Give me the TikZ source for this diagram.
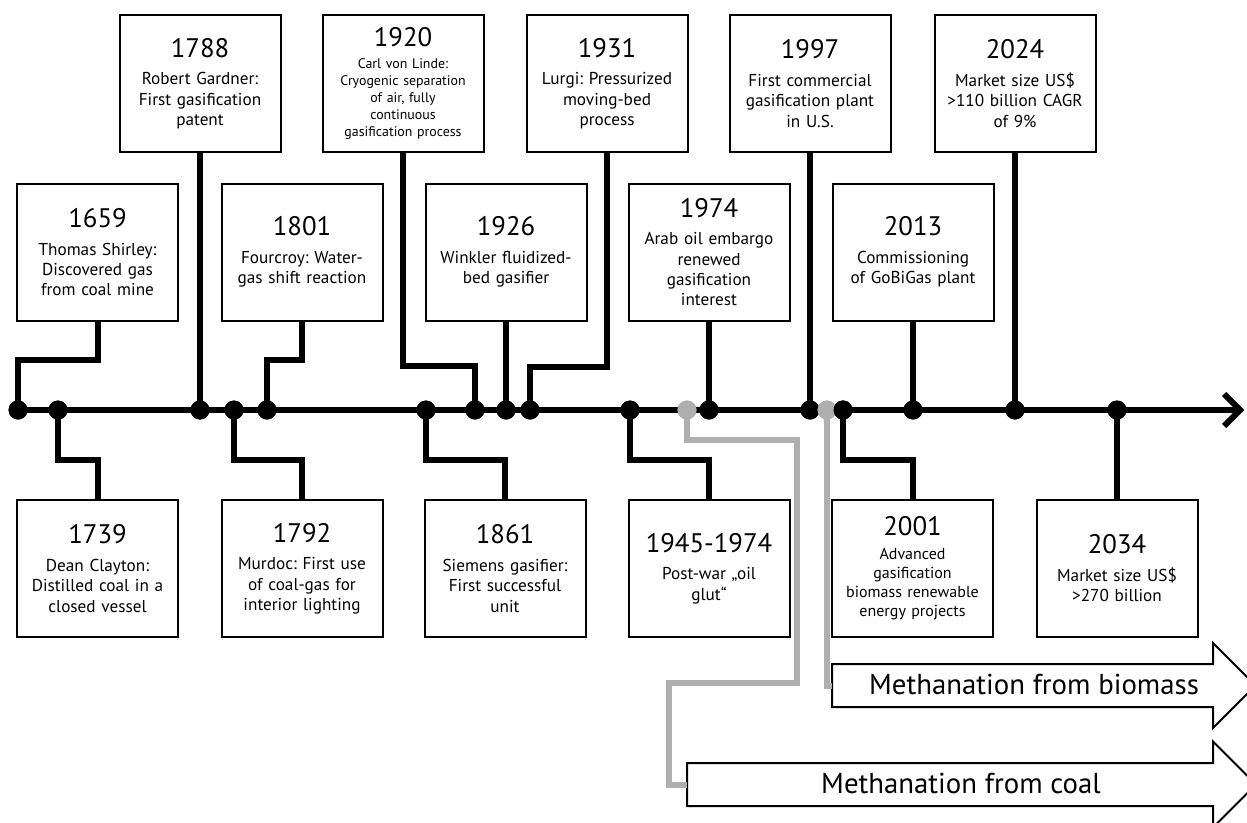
\documentclass[tikz,border=0pt]{standalone}
\usepackage{fontspec}
\setmainfont{PT Sans}
\definecolor{lgray}{HTML}{AFAFAF}
\newcommand\yr[2][7.5pt]{{\fontsize{26.8}{29}\selectfont #2}\\[#1]}
\begin{document}
\frenchspacing
\begin{tikzpicture}[x=1pt,y=-1pt,
  evbox/.style={draw, line width=2pt, fill=white, minimum width=161, minimum height=137,
    text width=157, align=center, inner sep=0pt, font=\fontsize{17.2}{20.3}\selectfont},
  smalltext/.style={font=\fontsize{13.9}{17}\selectfont},
  midtext/.style={font=\fontsize{16}{19}\selectfont},
  tdot/.style={circle, fill=black, inner sep=0pt, minimum size=19},
  gdot/.style={circle, fill=lgray, inner sep=0pt, minimum size=19},
  conn/.style={line width=6pt, draw=black},
  gconn/.style={line width=6pt, draw=lgray},
  bigarrow/.style={draw, line width=2pt, fill=white, line join=miter},
  arrlabel/.style={font=\fontsize{28.8}{32}\selectfont, anchor=base}
]
\useasboundingbox (0,0) rectangle (1247,822);

% timeline
\coordinate (tlS) at (18,410);
\coordinate (tlE) at (1240,410);
\draw[conn] (tlS) -- (tlE);
\draw[conn, line join=miter] (1224,394) -- (tlE) -- (1224,426);

% dots (positions)
\path (18,410)   node[tdot] (d1659) {}
      (58,410)   node[tdot] (d1739) {}
      (200,410)  node[tdot] (d1788) {}
      (234,410)  node[tdot] (d1792) {}
      (267,410)  node[tdot] (d1801) {}
      (426,410)  node[tdot] (d1861) {}
      (475,410)  node[tdot] (d1920) {}
      (506,410)  node[tdot] (d1926) {}
      (530,410)  node[tdot] (d1931) {}
      (630,410)  node[tdot] (d1945) {}
      (709,410)  node[tdot] (d1974) {}
      (810,410)  node[tdot] (d1997) {}
      (843,410)  node[tdot] (d2001) {}
      (913,410)  node[tdot] (d2013) {}
      (1015,410) node[tdot] (d2024) {}
      (1117,410) node[tdot] (d2034) {};

% boxes, upper row
\node[evbox] (b1788) at (200,83.5) {\yr{1788}Robert Gardner:\\First gasification\\patent};
\node[evbox, smalltext] (b1920) at (403,83.5) {\yr[5pt]{1920}Carl von Linde:\\Cryogenic separation\\of air, fully\\continuous\\gasification process};
\node[evbox] (b1931) at (607,83.5) {\yr{1931}Lurgi: Pressurized\\moving-bed\\process};
\node[evbox] (b1997) at (810,83.5) {\yr{1997}First commercial\\gasification plant\\in U.S.};
\node[evbox] (b2024) at (1015,83.5) {\yr{2024}Market size US\$\\>110 billion CAGR\\of 9\%};
% boxes, second row
\node[evbox] (b1659) at (97.5,252) {\yr{1659}Thomas Shirley:\\Discovered gas\\from coal mine};
\node[evbox] (b1801) at (302,252) {\yr{1801}Fourcroy: Water-\\gas shift reaction};
\node[evbox] (b1926) at (506,252) {\yr{1926}Winkler fluidized-\\bed gasifier};
\node[evbox] (b1974) at (709,252) {\yr{1974}Arab oil embargo\\renewed\\gasification\\interest};
\node[evbox] (b2013) at (913,252) {\yr{2013}Commissioning\\of GoBiGas plant};
% boxes, bottom row
\node[evbox] (b1739) at (97.5,568.5) {\yr{1739}Dean Clayton:\\Distilled coal in a\\closed vessel};
\node[evbox] (b1792) at (302,568.5) {\yr{1792}Murdoc: First use\\of coal-gas for\\interior lighting};
\node[evbox] (b1861) at (505,568.5) {\yr{1861}Siemens gasifier:\\First successful\\unit};
\node[evbox] (b1945) at (709,568.5) {\yr{1945-1974}Post-war „oil\\glut“};
\node[evbox, midtext] (b2001) at (912.5,568.5) {\yr[5pt]{2001}Advanced\\gasification\\biomass renewable\\energy projects};
\node[evbox] (b2034) at (1117,568.5) {\yr{2034}Market size US\$\\>270 billion};

% connectors, above
\draw[conn] (b1659.south) -- (b1659.south |- 0,360) -| (d1659.center);
\draw[conn] (b1788.south) -- (d1788.center);
\draw[conn] (b1801.south) -- (b1801.south |- 0,360) -| (d1801.center);
\draw[conn] (b1920.south) -- (b1920.south |- 0,366) -| (d1920.center);
\draw[conn] (b1926.south) -- (d1926.center);
\draw[conn] (b1931.south) -- (b1931.south |- 0,367) -| (d1931.center);
\draw[conn] (b1974.south) -- (d1974.center);
\draw[conn] (b1997.south) -- (d1997.center);
\draw[conn] (b2013.south) -- (d2013.center);
\draw[conn] (b2024.south) -- (d2024.center);
% connectors, below
\draw[conn] (d1739.center) -- (d1739.center |- 0,460) -| (b1739.north);
\draw[conn] (d1792.center) -- (d1792.center |- 0,460) -| (b1792.north);
\draw[conn] (d1861.center) -- (d1861.center |- 0,460) -| (b1861.north);
\draw[conn] (d1945.center) -- (d1945.center |- 0,460) -| (b1945.north);
\draw[conn] (d2001.center) -- (d2001.center |- 0,460) -| (b2001.north);
\draw[conn] (d2034.center) -- (b2034.north);

% redraw dots on top
\foreach \d in {d1659,d1739,d1788,d1792,d1801,d1861,d1920,d1926,d1931,d1945,d1974,d1997,d2001,d2013,d2024,d2034}
  \fill (\d) circle (9.5);

% big arrows
\coordinate (bioW) at (832,685.5);
\coordinate (coalW) at (687,784.5);
\draw[bigarrow] (832,664) -- (1213,664) -- (1213,643) -- (1255.5,685.5) -- (1213,728) -- (1213,707) -- (832,707) -- cycle;
\draw[bigarrow] (687,763) -- (1213,763) -- (1213,741.5) -- (1256,784.5) -- (1213,827.5) -- (1213,806) -- (687,806) -- cycle;
\node[arrlabel] (bio) at (1034,694) {Methanation from biomass};
\node[arrlabel] (coal) at (961,793) {Methanation from coal};

% gray connectors
\node[gdot] (g1) at (687,410) {};
\node[gdot] (g2) at (827,410) {};
\draw[gconn] (g1.center) -- (687,440) -- (797,440) -- (797,683) -- (669,683) -- (669,784.5) -- (coalW);
\draw[gconn] (g2.center) -- (827,685.5) -- (bioW);
\fill[lgray] (g1) circle (9.5);
\fill[lgray] (g2) circle (9.5);
\fill (d2001) circle (9.5);
\end{tikzpicture}
\end{document}
